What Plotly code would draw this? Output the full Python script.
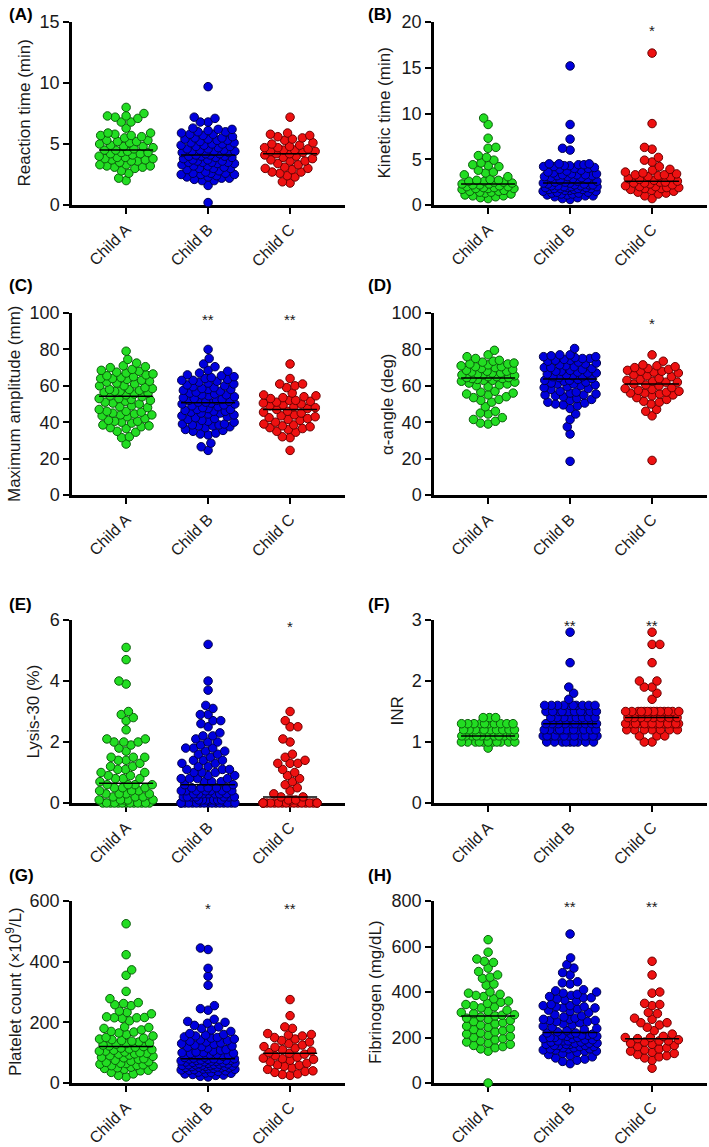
import math
import numpy as np
import plotly.graph_objects as go

categories = ["Child A", "Child B", "Child C"]

# (A) Reaction time (min)
rt_a = [2.0, 2.2, 2.6, 2.8, 3.0, 3.1, 3.1, 3.2, 3.2, 3.3, 3.3, 3.5, 3.6, 3.6, 3.7, 3.7, 3.8, 3.8, 3.9, 3.9,
        4.0, 4.1, 4.2, 4.2, 4.3, 4.3, 4.4, 4.5, 4.5, 4.6, 4.7, 4.8, 4.8, 4.9, 5.0, 5.1, 5.2, 5.2, 5.3, 5.3,
        5.5, 5.6, 5.7, 5.7, 5.8, 5.9, 5.9, 6.3, 6.8, 6.8, 7.1, 7.2, 7.3, 7.3, 7.5, 8.0]
rt_b = [0.2, 1.6, 2.0, 2.0, 2.1, 2.2, 2.2, 2.3, 2.3, 2.4, 2.5, 2.5, 2.5, 2.6, 2.6, 2.6, 2.7, 2.8, 2.9, 3.0,
        3.0, 3.0, 3.1, 3.2, 3.2, 3.3, 3.4, 3.4, 3.5, 3.5, 3.5, 3.5, 3.6, 3.6, 3.7, 3.7, 3.8, 3.9, 3.9, 4.0,
        4.0, 4.0, 4.1, 4.1, 4.2, 4.2, 4.3, 4.3, 4.4, 4.4, 4.4, 4.5, 4.5, 4.6, 4.6, 4.7, 4.8, 4.8, 4.9, 4.9,
        5.0, 5.0, 5.1, 5.1, 5.2, 5.3, 5.3, 5.4, 5.4, 5.5, 5.5, 5.6, 5.7, 5.8, 5.8, 5.9, 6.0, 6.0, 6.1, 6.2,
        6.2, 6.3, 6.8, 6.8, 7.1, 7.2, 9.7]
rt_c = [1.8, 1.9, 2.3, 2.4, 2.6, 2.7, 2.7, 2.9, 3.0, 3.0, 3.1, 3.3, 3.4, 3.6, 3.6, 3.7, 3.8, 3.9, 4.0, 4.1,
        4.2, 4.2, 4.3, 4.4, 4.4, 4.5, 4.5, 4.6, 4.7, 4.7, 4.8, 4.9, 5.0, 5.1, 5.3, 5.4, 5.5, 5.6, 5.7, 5.8,
        5.9, 7.2]

# (B) Kinetic time (min)
kt_a = [0.7, 0.8, 0.9, 1.0, 1.0, 1.1, 1.2, 1.3, 1.4, 1.4, 1.5, 1.5, 1.6, 1.7, 1.8, 1.8, 1.8, 1.9, 1.9, 2.0,
        2.0, 2.1, 2.2, 2.2, 2.3, 2.3, 2.4, 2.5, 2.5, 2.6, 2.6, 2.7, 2.7, 2.8, 3.1, 3.3, 3.5, 3.6, 3.8, 4.2,
        4.3, 4.4, 4.6, 4.9, 5.2, 5.4, 6.2, 6.3, 7.3, 8.8, 9.5]
kt_b = [0.6, 0.7, 0.8, 0.9, 1.0, 1.0, 1.1, 1.1, 1.2, 1.2, 1.3, 1.3, 1.4, 1.4, 1.5, 1.5, 1.6, 1.6, 1.7, 1.7,
        1.7, 1.8, 1.8, 1.8, 1.8, 1.9, 1.9, 1.9, 2.0, 2.0, 2.0, 2.1, 2.1, 2.1, 2.2, 2.2, 2.2, 2.3, 2.3, 2.4,
        2.4, 2.5, 2.5, 2.6, 2.6, 2.7, 2.8, 2.9, 3.0, 3.0, 3.1, 3.1, 3.2, 3.2, 3.3, 3.3, 3.3, 3.4, 3.4, 3.5,
        3.6, 3.7, 3.8, 3.9, 4.0, 4.0, 4.1, 4.2, 4.2, 4.3, 4.3, 4.4, 4.4, 4.5, 4.5, 4.5, 6.0, 6.2, 7.2, 8.8,
        15.2]
kt_c = [0.7, 1.0, 1.2, 1.3, 1.4, 1.5, 1.6, 1.7, 1.8, 1.8, 1.9, 1.9, 2.0, 2.0, 2.1, 2.2, 2.3, 2.4, 2.4, 2.5,
        2.5, 2.6, 2.7, 2.8, 2.9, 3.0, 3.1, 3.2, 3.3, 3.3, 3.4, 3.5, 3.6, 3.8, 3.9, 4.2, 4.7, 4.9, 5.2, 6.1,
        6.3, 8.9, 16.6]

# (C) Maximum amplitude (mm)
ma_a = [28, 31.5, 32, 34.5, 35, 36.5, 37, 37.5, 38, 38.5, 39.5, 40, 40.5, 40.5, 41, 42, 43, 43.5, 44, 44,
        44.5, 45, 45.5, 46, 46, 47, 48, 48.5, 49, 50, 50.5, 51, 51.5, 52, 52.5, 53, 53, 54, 54.5, 55,
        55.5, 56, 56.5, 57, 57, 57.5, 58, 58, 58.5, 59, 60, 60, 61, 61.5, 62, 62.5, 63, 63.5, 64, 64,
        64.5, 65, 65.5, 66, 66.5, 67, 67.5, 68, 68.5, 69, 70, 70.5, 71, 72.5, 74.5, 79]
ma_b = [24.5, 26.5, 28.5, 33, 33.5, 34, 35, 35.5, 36, 37, 37.5, 38, 38, 38.5, 38.5, 39, 39, 40, 40.5, 41,
        41.5, 42, 42.5, 43, 43.5, 44, 44.5, 45, 45, 45.5, 46, 46, 46.5, 47, 47, 47.5, 48, 48.5, 49, 49.5,
        50, 50, 50.5, 51, 51, 51.5, 52, 52, 52.5, 53, 53.5, 54, 54.5, 55, 55, 55.5, 56, 56.5, 57, 57.5,
        58, 58, 58.5, 59, 59.5, 60, 60.5, 61, 61.5, 62, 62.5, 63, 63, 63.5, 64, 64.5, 65, 65.5, 66, 67,
        68, 68.5, 70.5, 72, 75, 80]
ma_c = [24.5, 31.5, 32, 34.5, 35, 36, 36.5, 37, 37.5, 38, 38.5, 39, 40, 41, 41.5, 42, 42.5, 43, 43.5, 44,
        45, 45.5, 46, 47, 47.5, 48, 48.5, 49, 49.5, 50, 50.5, 51, 51.5, 52, 52, 53, 53.5, 54, 54.5, 55,
        56, 59, 60, 61, 61, 64, 72]

# (D) alpha-angle (deg)
aa_a = [39, 39.5, 40.5, 41.5, 42.5, 44.5, 45, 46, 48.5, 51, 52, 52.5, 53.5, 54, 55, 55.5, 56, 56.5, 57, 59.5,
        60, 60.5, 61, 61.5, 62, 62.5, 63, 63, 63.5, 64, 64, 64.5, 64.5, 65, 65, 65.5, 66, 66, 66.5, 67,
        67, 67.5, 68, 68, 68.5, 69, 69.5, 70, 70.5, 70.5, 71, 71.5, 72, 72, 72.5, 73, 73.5, 74, 75, 76,
        77, 79.5]
aa_b = [18.5, 33.5, 37.5, 41.5, 44.5, 47.5, 49, 49.5, 50, 50.5, 51, 52, 52.5, 53, 54, 54.5, 55, 55, 55.5, 56,
        56.5, 57, 58, 58.5, 59, 59.5, 60, 60.5, 61, 61, 61.5, 62, 62.5, 63, 63, 63.5, 64, 64.5, 65, 65,
        65.5, 66, 66.5, 67, 67, 67.5, 68, 68, 68.5, 69, 69.5, 70, 70, 70.5, 71, 71.5, 72, 72.5, 73, 73.5,
        74, 74, 74.5, 75, 75, 75.5, 76, 76, 76.5, 77, 77, 80.5]
aa_c = [19, 43.5, 46, 47, 50, 51, 51.5, 52.5, 53.5, 54.5, 55, 55.5, 56, 56, 56.5, 57, 57.5, 58, 58.5, 59,
        60, 60.5, 61, 62, 62, 62.5, 63, 63.5, 64, 65, 65.5, 66, 67, 67.5, 68, 68, 68.5, 69, 69.5, 70,
        70.5, 71, 71.5, 73.5, 77]

# (E) Lysis-30 (%)
ly_a = [0, 0, 0, 0, 0, 0, 0, 0, 0, 0, 0, 0, 0, 0.1, 0.1, 0.1, 0.1, 0.1, 0.2, 0.2,
        0.2, 0.3, 0.3, 0.3, 0.3, 0.4, 0.4, 0.4, 0.5, 0.5, 0.5, 0.6, 0.6, 0.6, 0.6, 0.7, 0.8, 0.8, 0.8, 0.9,
        0.9, 1.0, 1.0, 1.1, 1.1, 1.2, 1.2, 1.3, 1.4, 1.4, 1.5, 1.5, 1.5, 1.7, 1.8, 1.9, 2.0, 2.0, 2.0, 2.1,
        2.1, 2.4, 2.7, 2.8, 2.9, 3.0, 3.9, 4.0, 4.7, 5.1]
ly_b = [0, 0, 0, 0, 0, 0, 0, 0, 0, 0, 0, 0, 0, 0, 0, 0, 0.1, 0.1, 0.1, 0.1,
        0.1, 0.1, 0.1, 0.2, 0.2, 0.2, 0.2, 0.2, 0.2, 0.2, 0.3, 0.3, 0.3, 0.3, 0.3, 0.3, 0.3, 0.4, 0.4, 0.4,
        0.4, 0.4, 0.4, 0.4, 0.5, 0.5, 0.5, 0.5, 0.5, 0.6, 0.6, 0.7, 0.7, 0.7, 0.8, 0.8, 0.8, 0.8, 0.9, 0.9,
        1.0, 1.0, 1.0, 1.1, 1.1, 1.1, 1.2, 1.2, 1.3, 1.3, 1.4, 1.4, 1.4, 1.5, 1.6, 1.6, 1.7, 1.7, 1.8, 1.8,
        1.8, 1.9, 2.0, 2.0, 2.1, 2.2, 2.2, 2.3, 2.5, 2.6, 2.7, 2.7, 2.9, 2.9, 3.1, 3.2, 3.7, 4.0, 5.2]
ly_c = [0, 0, 0, 0, 0, 0, 0, 0, 0, 0, 0, 0, 0, 0, 0, 0, 0, 0, 0.1, 0.1,
        0.1, 0.2, 0.2, 0.3, 0.4, 0.5, 0.6, 0.7, 0.8, 0.9, 1.0, 1.1, 1.3, 1.3, 1.3, 1.4, 1.5, 1.6, 2.0, 2.1,
        2.5, 2.5, 2.7, 3.0]

# (F) INR
inr_a = [0.9, 1.0, 1.0, 1.0, 1.0, 1.0, 1.0, 1.0, 1.0, 1.0, 1.0, 1.0, 1.1, 1.1, 1.1, 1.1, 1.1, 1.1, 1.1, 1.1,
         1.1, 1.1, 1.1, 1.2, 1.2, 1.2, 1.2, 1.2, 1.2, 1.2, 1.2, 1.2, 1.3, 1.3, 1.3, 1.3, 1.3, 1.3, 1.3, 1.3,
         1.3, 1.3, 1.4, 1.4, 1.4]
inr_b = [1.0, 1.0, 1.0, 1.0, 1.0, 1.0, 1.0, 1.0, 1.0, 1.1, 1.1, 1.1, 1.1, 1.1, 1.1, 1.1, 1.1, 1.1, 1.1,
         1.1, 1.1, 1.1, 1.2, 1.2, 1.2, 1.2, 1.2, 1.2, 1.2, 1.2, 1.2, 1.2, 1.2, 1.2, 1.3, 1.3, 1.3, 1.3,
         1.3, 1.3, 1.3, 1.3, 1.3, 1.3, 1.4, 1.4, 1.4, 1.4, 1.4, 1.4, 1.4, 1.4, 1.5, 1.5, 1.5, 1.5, 1.5,
         1.5, 1.5, 1.5, 1.5, 1.5, 1.5, 1.5, 1.5, 1.6, 1.6, 1.6, 1.6, 1.6, 1.6, 1.6, 1.6, 1.6, 1.6, 1.7,
         1.8, 1.9, 2.3, 2.8]
inr_c = [1.0, 1.0, 1.1, 1.1, 1.1, 1.2, 1.2, 1.2, 1.2, 1.2, 1.2, 1.2, 1.3, 1.3, 1.3, 1.3, 1.3, 1.3, 1.3,
         1.3, 1.3, 1.3, 1.3, 1.3, 1.3, 1.3, 1.4, 1.4, 1.4, 1.4, 1.4, 1.4, 1.4, 1.4, 1.5, 1.5, 1.5, 1.5,
         1.5, 1.5, 1.5, 1.5, 1.5, 1.5, 1.5, 1.5, 1.5, 1.5, 1.7, 1.8, 1.9, 1.9, 2.0, 2.0, 2.3, 2.6, 2.6, 2.8]

# (G) Platelet count (x10^9/L)
plt_a = [20, 25, 30, 35, 40, 42, 45, 48, 50, 52, 55, 57, 58, 60, 62, 64, 65, 68, 70, 72,
         75, 78, 80, 83, 85, 88, 90, 92, 95, 96, 98, 100, 102, 105, 105, 108, 110, 112, 115, 118,
         120, 122, 125, 128, 130, 132, 135, 138, 140, 143, 145, 148, 150, 155, 160, 165, 168, 170, 175, 180,
         183, 185, 205, 213, 215, 215, 216, 218, 228, 233, 237, 255, 258, 262, 265, 278, 302, 355, 373, 423,
         525]
plt_b = [20, 22, 25, 26, 28, 30, 32, 33, 35, 36, 38, 40, 42, 43, 44, 45, 46, 47, 48, 50,
         50, 51, 52, 53, 54, 55, 55, 56, 57, 58, 59, 60, 60, 61, 62, 63, 64, 65, 66, 67,
         68, 69, 70, 71, 72, 73, 74, 75, 75, 76, 77, 78, 79, 80, 80, 82, 84, 85, 88, 90,
         92, 95, 95, 97, 98, 100, 100, 102, 105, 108, 110, 115, 118, 120, 122, 125, 128, 130, 132, 135,
         138, 140, 142, 145, 148, 150, 152, 155, 158, 160, 163, 170, 175, 180, 185, 190, 197, 200, 203, 210,
         240, 245, 255, 322, 352, 378, 440, 445]
plt_c = [25, 28, 30, 35, 38, 40, 45, 50, 55, 58, 60, 65, 70, 75, 78, 80, 82, 85, 90, 95,
         98, 100, 105, 110, 115, 118, 120, 125, 130, 135, 140, 145, 150, 155, 158, 160, 163, 180, 185, 222,
         275]

# (H) Fibrinogen (mg/dL)
fib_a = [0, 140, 150, 155, 160, 165, 170, 175, 180, 185, 190, 195, 200, 205, 210, 215, 220, 225, 230, 235,
         240, 245, 250, 255, 260, 265, 270, 275, 280, 285, 290, 295, 298, 300, 305, 310, 315, 320, 330, 335,
         340, 345, 350, 355, 360, 370, 380, 385, 390, 395, 400, 430, 435, 460, 465, 475, 490, 505, 530, 535,
         545, 575, 630]
fib_b = [85, 95, 100, 105, 110, 115, 120, 125, 130, 135, 140, 140, 145, 145, 150, 150, 150, 155, 155, 160,
         160, 165, 165, 165, 170, 170, 170, 175, 175, 175, 180, 180, 185, 185, 185, 190, 190, 195, 195, 200,
         200, 200, 205, 205, 210, 210, 210, 215, 215, 220, 220, 225, 230, 235, 240, 245, 250, 255, 260, 265,
         270, 270, 275, 275, 280, 280, 285, 290, 295, 300, 310, 315, 320, 325, 330, 330, 335, 335, 340, 340,
         345, 360, 365, 370, 375, 375, 380, 385, 390, 395, 400, 405, 410, 435, 440, 445, 475, 485, 505, 520,
         550, 655]
fib_c = [65, 100, 110, 115, 120, 125, 130, 135, 140, 145, 150, 155, 160, 165, 170, 175, 180, 185, 185, 190,
         195, 200, 200, 205, 215, 230, 245, 255, 265, 265, 280, 285, 305, 310, 340, 345, 350, 395, 400, 475,
         535]

# significance marks per group
sig_rt = ["", "", ""]
sig_kt = ["", "", "*"]
sig_ma = ["", "**", "**"]
sig_aa = ["", "", "*"]
sig_ly = ["", "", "*"]
sig_inr = ["", "**", "**"]
sig_plt = ["", "*", "**"]
sig_fib = ["", "**", "**"]

# ---------------- layout / styling ----------------
W, H = 709, 1147
FONT = "Arial, Liberation Sans, Helvetica, sans-serif"
fills = ["#22dd22", "#0000dd", "#ee1111"]
edges = ["#0b5e0b", "#00004a", "#6a0000"]

col_x = [(72, 345), (434, 707)]
row_y = [(22, 205), (313, 495), (620, 803), (901, 1083)]
label_y = [15, 285, 604, 875]
label_x = [7, 366]

panels = [
    dict(lab="(A)", title="Reaction time (min)", data=[rt_a, rt_b, rt_c], ymax=15, dtick=5, sig=sig_rt, sy=14, tx=24),
    dict(lab="(B)", title="Kinetic time (min)", data=[kt_a, kt_b, kt_c], ymax=20, dtick=5, sig=sig_kt, sy=19.3, tx=384),
    dict(lab="(C)", title="Maximum amplitude (mm)", data=[ma_a, ma_b, ma_c], ymax=100, dtick=20, sig=sig_ma, sy=97.6, tx=14),
    dict(lab="(D)", title="α-angle (deg)", data=[aa_a, aa_b, aa_c], ymax=100, dtick=20, sig=sig_aa, sy=95.5, tx=387),
    dict(lab="(E)", title="Lysis-30 (%)", data=[ly_a, ly_b, ly_c], ymax=6, dtick=2, sig=sig_ly, sy=5.84, tx=33),
    dict(lab="(F)", title="INR", data=[inr_a, inr_b, inr_c], ymax=3, dtick=1, sig=sig_inr, sy=2.95, tx=397),
    dict(lab="(G)", title="Platelet count (×10<sup>9</sup>/L)", data=[plt_a, plt_b, plt_c], ymax=600, dtick=200, sig=sig_plt, sy=581, tx=14),
    dict(lab="(H)", title="Fibrinogen (mg/dL)", data=[fib_a, fib_b, fib_c], ymax=800, dtick=200, sig=sig_fib, sy=783, tx=375),
]

MARK = 8.5      # marker diameter in px
DIST = 7.8      # collision distance in px
CAT_PX = 82.0   # px between categories
HALF = 27.0     # max half-width of a swarm in px


def swarm_offsets(vals, ppu):
    """Ascending beeswarm (points placed as close to the centre as possible)."""
    y = np.asarray(vals, dtype=float) * ppu
    order = np.argsort(y, kind="stable")
    xs = np.zeros(len(y))
    placed = []
    last = 1.0
    for i in order:
        best = None
        for scale in (1.0, 0.9, 0.8, 0.7, 0.6, 0.5, 0.45, 0.4, 0.35):
            D = DIST * scale
            ivs = []
            for j in placed:
                dy = y[i] - y[j]
                if abs(dy) < D:
                    h = math.sqrt(D * D - dy * dy)
                    ivs.append((xs[j] - h, xs[j] + h))
            cands = [0.0] + [a for a, b in ivs] + [b for a, b in ivs]
            ok = [c for c in cands if abs(c) <= HALF + 1e-9 and
                  all(not (a + 1e-7 < c < b - 1e-7) for a, b in ivs)]
            if ok:
                best = min(ok, key=lambda c: (round(abs(c), 4), 0 if c * last < 0 else 1))
                break
        if best is None:
            best = -last * HALF
        xs[i] = best
        if best != 0:
            last = 1.0 if best > 0 else -1.0
        placed.append(i)
    return xs / CAT_PX


fig = go.Figure()
annotations = []
layout_axes = {}

for p_i, p in enumerate(panels):
    col = p_i % 2
    row = p_i // 2
    k = p_i + 1
    xs = "" if k == 1 else str(k)
    x0, x1 = col_x[col]
    yt, yb = row_y[row]
    plot_h = yb - yt
    ppu = plot_h / p["ymax"]

    for g, vals in enumerate(p["data"]):
        off = swarm_offsets(vals, ppu)
        fig.add_trace(go.Scatter(
            x=g + off, y=vals, mode="markers", xaxis="x" + xs, yaxis="y" + xs,
            marker=dict(size=MARK, color=fills[g], line=dict(color=edges[g], width=1)),
            cliponaxis=False, showlegend=False, hoverinfo="y"))
    for g, vals in enumerate(p["data"]):
        med = float(np.median(vals))
        fig.add_trace(go.Scatter(
            x=[g - 0.33, g + 0.33], y=[med, med], mode="lines", xaxis="x" + xs, yaxis="y" + xs,
            line=dict(color="black", width=1.5), cliponaxis=False, showlegend=False, hoverinfo="skip"))

    layout_axes["xaxis" + xs] = dict(
        domain=[x0 / W, x1 / W], anchor="y" + xs, range=[-0.66, 2.67],
        tickmode="array", tickvals=[0, 1, 2], ticktext=categories, tickangle=-45,
        showline=True, linecolor="black", linewidth=2.5, ticks="outside", ticklen=6, tickwidth=2,
        tickcolor="black", showgrid=False, zeroline=False, layer="below traces", automargin=False,
        tickfont=dict(family=FONT, size=16, color="#1a1a1a"), fixedrange=True)
    layout_axes["yaxis" + xs] = dict(
        domain=[1 - yb / H, 1 - yt / H], anchor="x" + xs, range=[0, p["ymax"]],
        tickmode="linear", tick0=0, dtick=p["dtick"],
        showline=True, linecolor="black", linewidth=2.5, ticks="outside", ticklen=6, tickwidth=2,
        tickcolor="black", showgrid=False, zeroline=False, layer="below traces", automargin=False,
        tickfont=dict(family=FONT, size=18, color="#1a1a1a"), fixedrange=True)

    annotations.append(dict(
        text="<b>" + p["lab"] + "</b>", xref="paper", yref="paper",
        x=label_x[col] / W, y=1 - label_y[row] / H, xanchor="left", yanchor="middle",
        showarrow=False, font=dict(family=FONT, size=17, color="black")))
    annotations.append(dict(
        text=p["title"], xref="paper", yref="paper", textangle=-90,
        x=p["tx"] / W, y=1 - (yt + yb) / 2 / H, xanchor="center", yanchor="middle",
        showarrow=False, font=dict(family=FONT, size=17, color="#1a1a1a")))
    for g, s in enumerate(p["sig"]):
        if s:
            annotations.append(dict(
                text=s, xref="x" + xs, yref="y" + xs, x=g, y=p["sy"] - 2.0 / ppu,
                xanchor="center", yanchor="middle", showarrow=False,
                font=dict(family=FONT, size=15, color="#1a1a1a")))

fig.update_layout(
    width=W, height=H, autosize=False,
    margin=dict(l=0, r=0, t=0, b=0, pad=0, autoexpand=False),
    paper_bgcolor="white", plot_bgcolor="white",
    font=dict(family=FONT),
    annotations=annotations,
    showlegend=False,
    **layout_axes)

fig.write_html("out.html", config={"displayModeBar": False},
               post_script="document.body.style.margin='0px';document.body.style.padding='0px';")
